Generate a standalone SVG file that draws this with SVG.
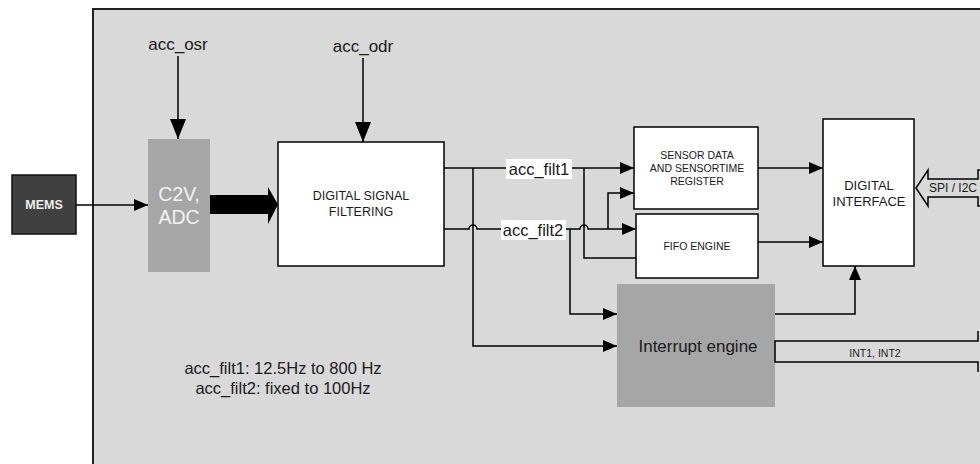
<svg xmlns="http://www.w3.org/2000/svg" width="980" height="464" viewBox="0 0 980 464">
<style>
.t{font-family:"Liberation Sans",Arial,sans-serif;fill:#1a1a1a}
.ln{fill:none;stroke:#000;stroke-width:1.5}
.box{fill:#fff;stroke:#000;stroke-width:1.5}
.gbox{fill:#a6a6a6}
</style>
<defs>
<marker id="a" markerUnits="userSpaceOnUse" markerWidth="14" markerHeight="12" refX="14" refY="6" orient="auto"><path d="M0,0 L14,6 L0,12 z" fill="#000"/></marker>
<marker id="b" markerUnits="userSpaceOnUse" markerWidth="20" markerHeight="16" refX="20" refY="8" orient="auto"><path d="M0,0 L20,8 L0,16 z" fill="#000"/></marker>
</defs>
<rect x="93" y="9" width="900" height="470" fill="#d9d9d9" stroke="#222" stroke-width="2"/>
<g id="mems"><rect x="12" y="175" width="64" height="59" fill="#404040" stroke="#111" stroke-width="1.5"/><text class="t" x="44" y="209" font-size="12.5" font-weight="bold" text-anchor="middle" style="fill:#eee">MEMS</text></g>
<g id="adc"><rect class="gbox" x="148" y="139" width="62" height="133"/><text class="t" x="179" y="201" font-size="19.5" text-anchor="middle" style="fill:#f2f2f2">C2V,</text><text class="t" x="179" y="224" font-size="19.5" text-anchor="middle" style="fill:#f2f2f2">ADC</text></g>
<g id="dsf"><rect class="box" x="278" y="142" width="166" height="124"/><text class="t" x="361" y="200" font-size="12.5" text-anchor="middle">DIGITAL SIGNAL</text><text class="t" x="361" y="216" font-size="12.5" text-anchor="middle">FILTERING</text></g>
<g id="sensor"><rect class="box" x="634" y="127" width="124" height="82"/><text class="t" x="697" y="159" font-size="10.5" text-anchor="middle">SENSOR DATA</text><text class="t" x="697" y="172" font-size="10.5" text-anchor="middle">AND SENSORTIME</text><text class="t" x="697" y="185" font-size="10.5" text-anchor="middle">REGISTER</text></g>
<g id="fifo"><rect class="box" x="636" y="214" width="122" height="64"/><text class="t" x="697" y="250" font-size="10.5" text-anchor="middle">FIFO ENGINE</text></g>
<g id="di"><rect class="box" x="823" y="119" width="91" height="147"/><text class="t" x="869" y="190" font-size="13" text-anchor="middle">DIGITAL</text><text class="t" x="869" y="206" font-size="13" text-anchor="middle">INTERFACE</text></g>
<g id="intr"><rect class="gbox" x="617" y="284" width="158" height="123"/><text class="t" x="698" y="352" font-size="17" text-anchor="middle">Interrupt engine</text></g>
<g id="labels">
<text class="t" x="178" y="50" font-size="17" text-anchor="middle">acc_osr</text>
<text class="t" x="363" y="52" font-size="17" text-anchor="middle">acc_odr</text>
<text class="t" x="283" y="374" font-size="16.5" text-anchor="middle">acc_filt1: 12.5Hz to 800 Hz</text>
<text class="t" x="283" y="394" font-size="16.5" text-anchor="middle">acc_filt2: fixed to 100Hz</text>
</g>
<g id="connectors">
<line class="ln" x1="178" y1="56" x2="178" y2="139" marker-end="url(#b)"/>
<line class="ln" x1="363" y1="58" x2="363" y2="142" marker-end="url(#b)"/>
<line class="ln" x1="76" y1="205" x2="148" y2="205" marker-end="url(#a)"/>
<path d="M210,195 L268,195 L268,187 L278,204.5 L268,224 L268,214 L210,214 z" fill="#000"/>
<path class="ln" d="M444,168 L634,168" marker-end="url(#a)"/>
<path class="ln" d="M444,229 L469,229 A4,4 0 0 1 477,229 L580,229 A4,4 0 0 1 588,229 L636,229" marker-end="url(#a)"/>
<path class="ln" d="M473,168 L473,346 L617,346" marker-end="url(#a)"/>
<path class="ln" d="M584,168 L584,258 L636,258"/>
<path class="ln" d="M570,229 L570,314 L617,314" marker-end="url(#a)"/>
<path class="ln" d="M608,229 L608,193 L634,193" marker-end="url(#a)"/>
<line class="ln" x1="758" y1="168" x2="823" y2="168" marker-end="url(#a)"/>
<line class="ln" x1="758" y1="242" x2="823" y2="242" marker-end="url(#a)"/>
<path class="ln" d="M775,314 L855,314 L855,266" marker-end="url(#a)"/>
<path class="ln" d="M978,331 L978,341 L775,341 L775,362 L978,362 L978,372"/>
<path d="M981,170 L978,170 L978,179 L928,179 L928,170 L916,188 L928,206 L928,197 L978,197 L978,206 L981,206" fill="#d9d9d9" stroke="#000" stroke-width="1.5"/>
<rect x="506" y="159" width="66" height="20" fill="#fff"/>
<text class="t" x="539" y="175" font-size="16.5" text-anchor="middle">acc_filt1</text>
<rect x="501" y="220" width="65" height="20" fill="#fff"/>
<text class="t" x="533" y="236" font-size="16.5" text-anchor="middle">acc_filt2</text>
<text class="t" x="929" y="192" font-size="12">SPI / I2C</text>
<text class="t" x="875" y="357" font-size="10.5" text-anchor="middle">INT1, INT2</text>
</g>
</svg>
